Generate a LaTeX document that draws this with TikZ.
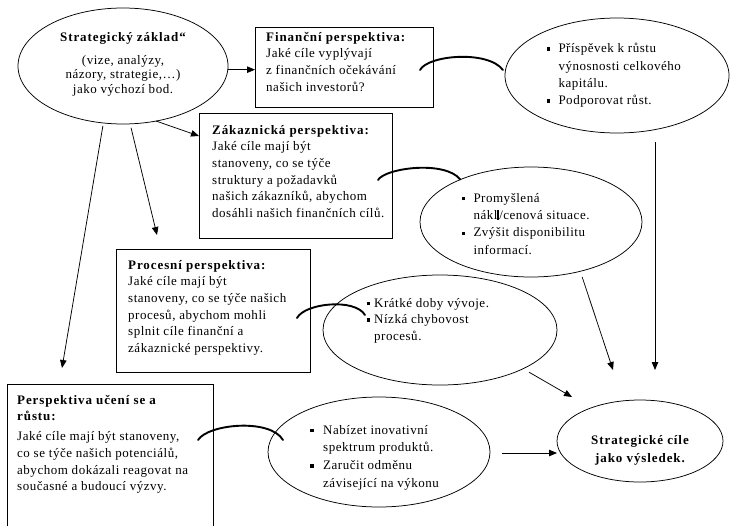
\documentclass[tikz,border=0pt]{standalone}
\usepackage{fontspec}
\setmainfont{Liberation Serif}[LetterSpace=4]
\newfontfamily\headfont{Liberation Serif}[LetterSpace=7]
\usetikzlibrary{arrows.meta,shapes.geometric}

% bold heading text
\newcommand{\hd}[1]{{\headfont\bfseries #1}}
% square bullet in a box of given width
\newcommand{\bul}[1]{\makebox[#1][l]{\rule[1.8pt]{3.5pt}{3.5pt}}}
% hanging indent for continuation lines
\newcommand{\ind}[1]{\hspace*{#1}}
% fixes the height of the first line
\newcommand{\tstrut}{\rule{0pt}{11pt}}

\begin{document}
\begin{tikzpicture}[x=1pt,y=-1pt,
  font=\fontsize{13}{16.6}\selectfont,
  box/.style={draw, line width=0.8pt, inner sep=0pt, outer sep=0pt},
  oval/.style={draw, ellipse, line width=0.75pt, inner sep=0pt, outer sep=0pt},
  txt/.style={inner sep=0pt, anchor=north west, align=left},
  arr/.style={-{Triangle[length=8pt,width=6.5pt]}, line width=0.75pt},
  link/.style={line width=1.9pt, line cap=round}]

\clip (0,0) rectangle (730,525);

% shapes
\node[oval, minimum width=210pt, minimum height=116pt] (strat) at (123,66) {};
\node[box, minimum width=178pt, minimum height=80pt] (fin) at (344,67) {};
\node[box, minimum width=193pt, minimum height=125pt] (zak) at (295.5,175.5) {};
\node[box, minimum width=194pt, minimum height=123pt] (proc) at (213,310.5) {};
\node[box, minimum width=206pt, minimum height=160pt] (learn) at (110,464) {};
\node[oval, minimum width=224pt, minimum height=115pt] (e1) at (617,75.5) {};
\node[oval, minimum width=222pt, minimum height=110pt] (e2) at (531,222) {};
\node[oval, minimum width=234pt, minimum height=110pt] (e3) at (440,330) {};
\node[oval, minimum width=222pt, minimum height=110pt] (e4) at (379,452) {};
\node[oval, minimum width=166pt, minimum height=82pt] (res) at (640,441) {};

% texts
\node[txt, anchor=north, align=center, font=\fontsize{13}{14.5}\selectfont] (strattext) at (123,30)
  {\tstrut\hd{Strategický základ“}\\[8.5pt] (vize, analýzy,\\ názory, strategie,…)\\ jako výchozí bod.};
\node[txt] (fintext) at (266,30)
  {\tstrut\hd{Finanční perspektiva:}\\ Jaké cíle vyplývají\\ z finančních očekávání\\ našich investorů?};
\node[txt] (zaktext) at (212,123)
  {\tstrut\hd{Zákaznická perspektiva:}\\ Jaké cíle mají být\\ stanoveny, co se týče\\ struktury a požadavků\\ našich zákazníků, abychom\\ dosáhli našich finančních cílů.};
\node[txt] (proctext) at (128,258)
  {\tstrut\hd{Procesní perspektiva:}\\ Jaké cíle mají být\\ stanoveny, co se týče našich\\ procesů, abychom mohli\\ splnit cíle finanční a\\ zákaznické perspektivy.};
\node[txt] (learntext) at (17,393)
  {\tstrut\hd{Perspektiva učení se a}\\ \hd{růstu:}\\[3.4pt] Jaké cíle mají být stanoveny,\\ co se týče našich potenciálů,\\ abychom dokázali reagovat na\\ současné a budoucí výzvy.};
\node[txt, font=\fontsize{13}{17.3}\selectfont] (e1text) at (546.5,41.5)
  {\tstrut\bul{11.8pt}Příspěvek k růstu\\ \ind{11.8pt}výnosnosti celkového\\ \ind{11.8pt}kapitálu.\\ \bul{11.8pt}Podporovat růst.};
\node[txt, font=\fontsize{13}{17.3}\selectfont] (e2text) at (461.5,191)
  {\tstrut\bul{11.8pt}Promyšlená\\ \ind{11.8pt}nákl\rule{1.8pt}{9.5pt}/cenová situace.\\ \bul{11.8pt}Zvýšit disponibilitu\\ \ind{11.8pt}informací.};
\node[txt, font=\fontsize{13}{16.5}\selectfont] (e3text) at (366.5,296)
  {\tstrut\bul{7.5pt}Krátké doby vývoje.\\ \bul{7.5pt}Nízká chybovost\\ \ind{7.5pt}procesů.};
\node[txt, font=\fontsize{13}{17.7}\selectfont] (e4text) at (310,423)
  {\tstrut\bul{13pt}Nabízet inovativní\\ \ind{13pt}spektrum produktů.\\ \bul{13pt}Zaručit odměnu\\ \ind{13pt}závisející na výkonu};
\node[txt, anchor=north, align=center, font=\fontsize{13}{18}\selectfont] (restext) at (640,433)
  {\tstrut\hd{Strategické cíle}\\ \hd{jako výsledek.}};

% free arrow ends
\coordinate (zin) at (199,136);
\coordinate (pin) at (157,235);
\coordinate (lin) at (62,368);
\coordinate (r1) at (655,370);
\coordinate (r2) at (613,370);
\coordinate (r3) at (572,397);
\coordinate (r4) at (557,453);

% arrows
\draw[arr] (strat.-2) -- (strat.-2 -| fin.west);
\draw[arr] (strat.-59) -- (zin);
\draw[arr, shorten <=4pt] (strat.-83) -- (pin);
\draw[arr, shorten <=3pt] (strat.-109) -- (lin);
\draw[arr, shorten <=9pt] (r1 |- e1.south) -- (r1);
\draw[arr, shorten <=6pt] (e2.-45) -- (r2);
\draw[arr, shorten <=7pt] (e3.-25) -- (r3);
\draw[arr, shorten <=12pt] (e4.east |- r4) -- (r4);

% curved links from each perspective to its goals
\draw[link] ([shift={(-13,3)}]fin.east) .. controls (428,55) and (488,50) .. ([shift={(-2,-5.5)}]e1.west);
\draw[link] ([shift={(-14,4.5)}]zak.east) .. controls (385,168) and (445,160) .. (e2.149);
\draw[link] ([shift={(-13,7.5)}]proc.east) .. controls (305,303) and (355,298) .. ([shift={(42,-15)}]e3.west);
\draw[link] ([shift={(-15,-24)}]learn.east) .. controls (208,424) and (270,418) .. ([shift={(15,-12)}]e4.west);
\end{tikzpicture}
\end{document}
